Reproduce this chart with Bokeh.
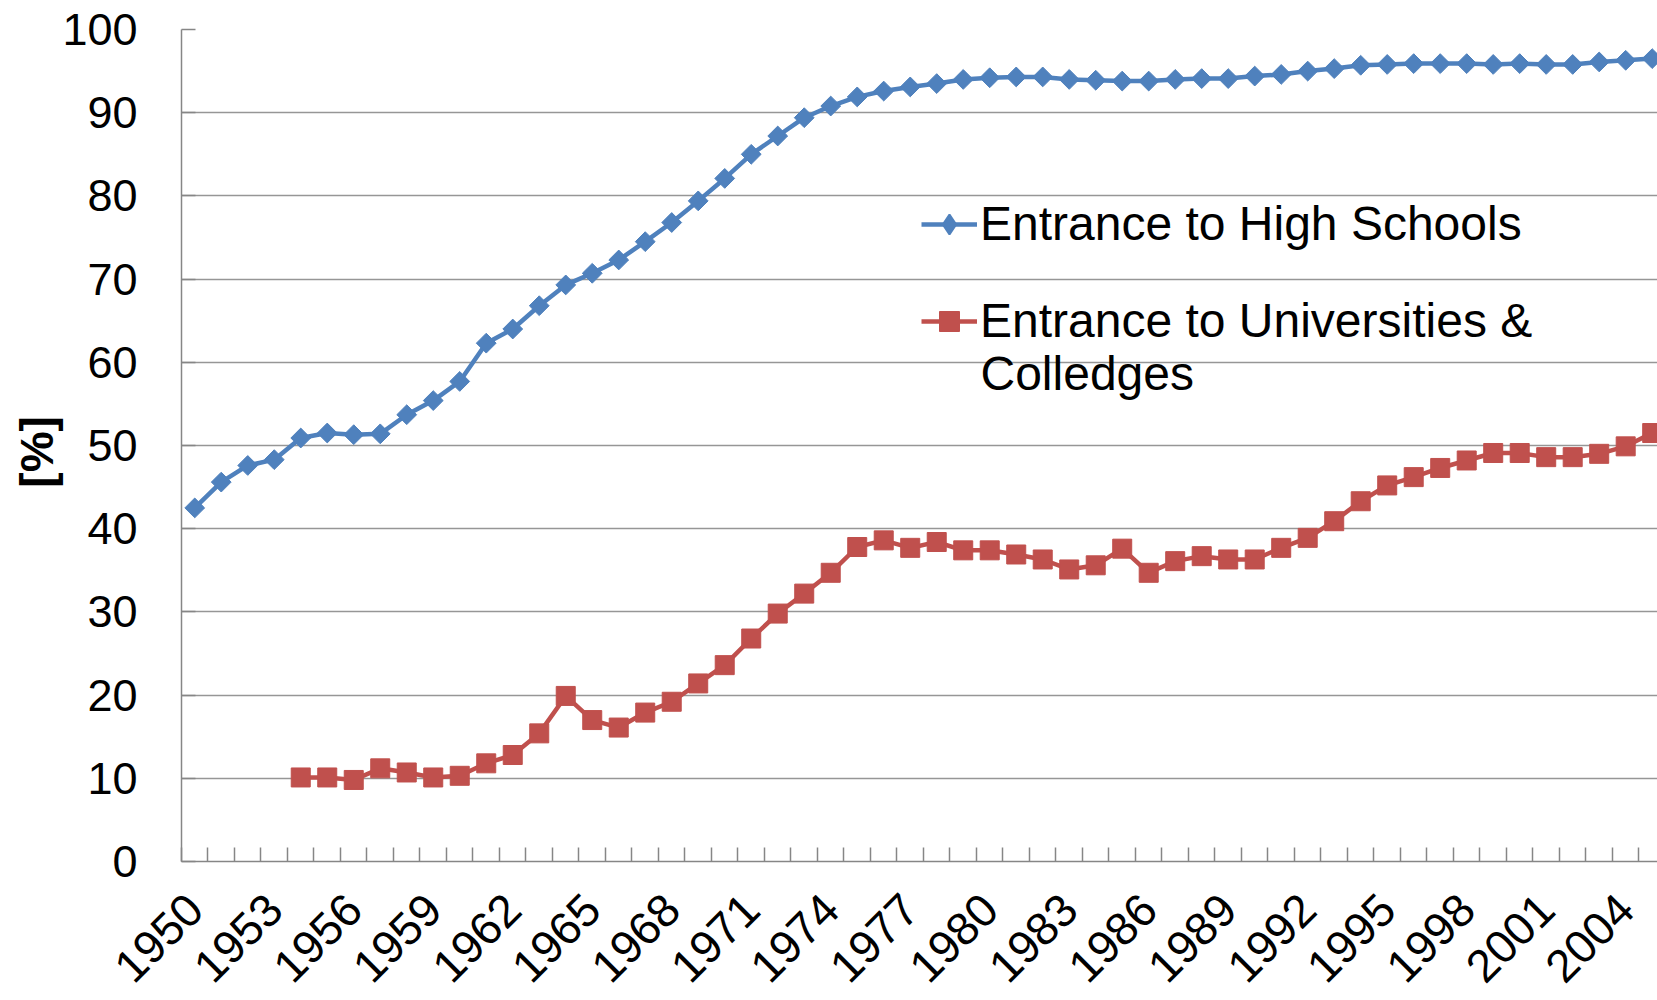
import math
from bokeh.plotting import figure
from bokeh.models import (Range1d, FixedTicker, Legend, LegendItem, Label)
from bokeh.embed import file_html
from bokeh.resources import INLINE

years = list(range(1950, 2006))
high_school = [42.5, 45.6, 47.6, 48.3, 50.9, 51.5, 51.3, 51.4, 53.7, 55.4,
               57.7, 62.3, 64.0, 66.8, 69.3, 70.7, 72.3, 74.5, 76.8, 79.4,
               82.1, 85.0, 87.2, 89.4, 90.8, 91.9, 92.6, 93.1, 93.5, 94.0,
               94.2, 94.3, 94.3, 94.0, 93.9, 93.8, 93.8, 94.0, 94.1, 94.1,
               94.4, 94.6, 95.0, 95.3, 95.7, 95.8, 95.9, 95.9, 95.9, 95.8,
               95.9, 95.8, 95.8, 96.1, 96.3, 96.5]

univ_years = list(range(1954, 2006))
university = [10.1, 10.1, 9.8, 11.2, 10.7, 10.1, 10.3, 11.8, 12.8, 15.4,
              19.9, 17.0, 16.1, 17.9, 19.2, 21.4, 23.6, 26.8, 29.8, 32.2,
              34.7, 37.8, 38.6, 37.7, 38.4, 37.4, 37.4, 36.9, 36.3, 35.1,
              35.6, 37.6, 34.7, 36.1, 36.7, 36.3, 36.3, 37.7, 38.9, 40.9,
              43.3, 45.2, 46.2, 47.3, 48.2, 49.1, 49.1, 48.6, 48.6, 49.0,
              49.9, 51.5]

label_years = list(range(1950, 2006, 3))
y_ticks = list(range(0, 101, 10))
series_names = ["Entrance to High Schools", "Entrance to Universities &"]
second_line = "Colledges"

BLUE = "#4F81BD"
RED = "#C0504D"
AXIS = "#868686"
GRID = "#969696"
FONT = "Liberation Sans"

p = figure(width=1657, height=1000, output_backend="svg", toolbar_location=None,
           x_range=Range1d(1949.5, 2005.2), y_range=Range1d(0, 100),
           min_border_left=181, min_border_right=0, min_border_top=29,
           min_border_bottom=139)
p.outline_line_color = None
p.background_fill_color = "white"
p.border_fill_color = "white"

hs_line = p.line(years, high_school, line_color=BLUE, line_width=4.5)
hs_mark = p.scatter(years, high_school, marker="square", angle=math.pi / 4,
                    size=14, fill_color=BLUE, line_color=BLUE)
un_line = p.line(univ_years, university, line_color=RED, line_width=4.5)
un_mark = p.scatter(univ_years, university, marker="square", size=19,
                    fill_color=RED, line_color=RED)

# legend-only marker renderers (not drawn in the plot area)
hs_leg = p.scatter(years, high_school, marker="diamond", fill_color=BLUE,
                   line_color=BLUE, line_width=2, visible=False)
un_leg = p.scatter(univ_years, university, marker="square", fill_color=RED,
                   line_color=RED, visible=False)

# axes
xa = p.xaxis[0]
xa.ticker = FixedTicker(ticks=label_years,
                        minor_ticks=[y - 0.5 for y in range(1950, 2007)])
xa.major_tick_line_color = None
xa.minor_tick_in = 14
xa.minor_tick_out = 0
xa.minor_tick_line_color = AXIS
xa.minor_tick_line_width = 1.5
xa.axis_line_color = AXIS
xa.axis_line_width = 1.5
xa.major_label_orientation = math.pi / 4
xa.major_label_text_font = FONT
xa.major_label_text_font_size = "46px"
xa.major_label_text_color = "black"
xa.major_label_standoff = 34

ya = p.yaxis[0]
ya.ticker = FixedTicker(ticks=y_ticks)
ya.major_tick_in = 14
ya.major_tick_out = 0
ya.major_tick_line_color = AXIS
ya.major_tick_line_width = 1.5
ya.minor_tick_line_color = None
ya.axis_line_color = AXIS
ya.axis_line_width = 1.5
ya.major_label_text_font = FONT
ya.major_label_text_font_size = "45px"
ya.major_label_text_color = "black"
ya.major_label_standoff = 44
ya.axis_label = "[%]\u00a0"
ya.axis_label_text_font = FONT
ya.axis_label_text_font_size = "46px"
ya.axis_label_text_font_style = "bold"
ya.axis_label_text_color = "black"
ya.axis_label_standoff = -4

p.xgrid.grid_line_color = None
p.ygrid.grid_line_color = GRID
p.ygrid.grid_line_width = 1.5

legend = Legend(items=[LegendItem(label=series_names[0], renderers=[hs_line, hs_leg]),
                       LegendItem(label=series_names[1], renderers=[un_line, un_leg])],
                location=(740, 513), padding=0, margin=0, spacing=42,
                glyph_width=56, glyph_height=50, label_standoff=3,
                label_text_font=FONT, label_text_font_size="48px",
                label_text_color="black", border_line_color=None,
                background_fill_alpha=0, inactive_fill_alpha=0)
p.add_layout(legend, "center")

p.add_layout(Label(x=799, y=488, x_units="screen", y_units="screen",
                   text=second_line, text_font=FONT, text_font_size="48px",
                   text_color="black", text_align="left",
                   text_baseline="alphabetic"))

open("out.html", "w").write(file_html(p, INLINE))
